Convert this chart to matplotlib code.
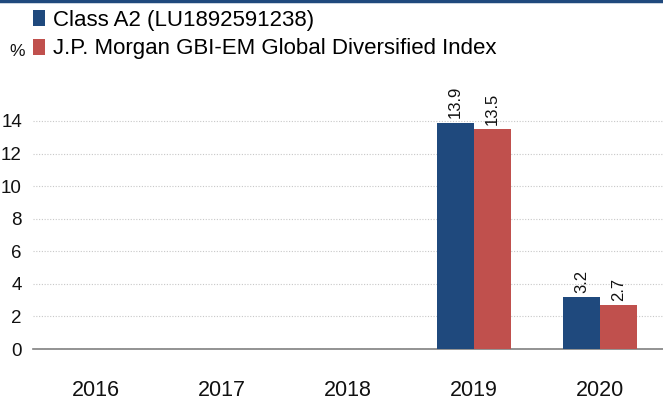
import matplotlib
matplotlib.use("Agg")
import matplotlib.pyplot as plt
import numpy as np
from matplotlib.patches import Patch
from matplotlib.lines import Line2D

years = ["2016", "2017", "2018", "2019", "2020"]
fund = [np.nan, np.nan, np.nan, 13.9, 3.2]
index = [np.nan, np.nan, np.nan, 13.5, 2.7]
series_names = ["Class A2 (LU1892591238)", "J.P. Morgan GBI-EM Global Diversified Index"]
yticks = [0, 2, 4, 6, 8, 10, 12, 14]

blue = "#1f497d"
red = "#c0504d"

plt.rcParams['font.family'] = ['Liberation Sans', 'DejaVu Sans']

W, H = 663, 401
fig = plt.figure(figsize=(W / 100, H / 100), dpi=100)
ax = fig.add_axes([33 / W, 1 - 349 / H, 1 - 33 / W, (349 - 88.4) / H])

x = np.arange(len(years))
bw = 0.295
b1 = ax.bar(x - bw / 2, fund, bw, color=blue, zorder=3)
b2 = ax.bar(x + bw / 2, index, bw, color=red, zorder=3)

for bars, vals in ((b1, fund), (b2, index)):
    for rect, v in zip(bars, vals):
        if np.isnan(v):
            continue
        ax.annotate(f"{v:.1f}", (rect.get_x() + rect.get_width() / 2, v),
                    xytext=(0, 3), textcoords="offset points",
                    rotation=90, ha="center", va="bottom", fontsize=12, color="#111111")

ax.set_xlim(-0.5, 4.5)
ax.set_ylim(0, 16)
ax.set_yticks(yticks)
ax.set_xticks(x)
ax.set_xticklabels(years, fontsize=15.5)
ax.tick_params(axis='x', length=0, pad=22, colors="#111111")
ax.tick_params(axis='y', length=0, pad=8, labelsize=13.5, colors="#111111")
for s in ("top", "right", "left"):
    ax.spines[s].set_visible(False)
ax.spines["bottom"].set_color("#808080")
ax.spines["bottom"].set_linewidth(1.2)
ax.yaxis.grid(True, linestyle=(0, (1, 1.5)), color="#c8c8c8", linewidth=0.8, zorder=0)
ax.set_axisbelow(True)

# top rule
fig.add_artist(Line2D([0, 1], [1 - 1 / H, 1 - 1 / H], transform=fig.transFigure,
                      color=blue, linewidth=2.5))

handles = [Patch(facecolor=blue), Patch(facecolor=red)]
fig.legend(handles, series_names, loc="upper left", bbox_to_anchor=(26 / W, 1 - 3 / H),
           frameon=False, fontsize=16, handlelength=0.55, handleheight=0.75,
           handletextpad=0.38, labelspacing=0.35, borderaxespad=0, borderpad=0.3)

fig.text(17 / W, 1 - 51 / H, "%", fontsize=12.5, ha="center", va="center", color="#111111")

fig.savefig("out.png", dpi=100)
